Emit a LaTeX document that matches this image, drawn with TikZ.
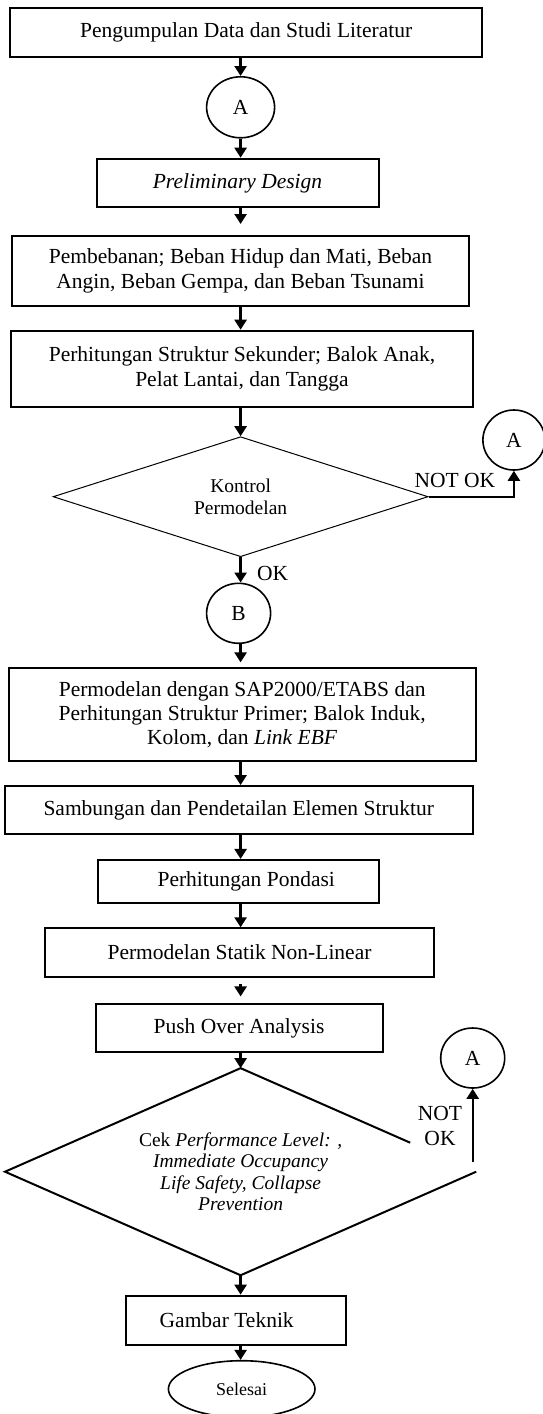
\documentclass[tikz,border=0pt]{standalone}
\usepackage{fontspec}
\setmainfont{Liberation Serif}
\usetikzlibrary{arrows.meta,shapes.geometric,calc}
\newcommand{\myfmain}{\fontsize{21.5}{25}\selectfont}
\newcommand{\myfdia}{\fontsize{19.5}{21.5}\selectfont}
\newcommand{\myfsel}{\fontsize{18}{20}\selectfont}
\begin{document}
\begin{tikzpicture}[x=1pt,y=-1pt,
  box/.style={draw, line width=2pt, rectangle, inner sep=0pt, align=center, font=\myfmain},
  conn/.style={draw, ellipse, line width=1.6pt, inner sep=0pt, font=\myfmain},
  arr/.style={line width=2.4pt, -{Triangle[width=12pt,length=10pt]}},
  lbl/.style={font=\myfmain, inner sep=0pt, align=center}]
\useasboundingbox (0,0) rectangle (542,1414);
\coordinate (ax) at (240.6,0);

\node[box, minimum width=471.6pt, minimum height=49pt] (b1) at (246.2,32.8) {Pengumpulan Data dan Studi Literatur};
\node[conn, minimum width=68pt, minimum height=61pt] (a1) at (240.6,107.3) {A};
\node[box, minimum width=282pt, minimum height=48.6pt] (b2) at (237.5,183) {\textit{Preliminary Design}};
\node[box, minimum width=456.5pt, minimum height=70pt] (b3) at (240.5,271) {Pembebanan; Beban Hidup dan Mati, Beban\\Angin, Beban Gempa, dan Beban Tsunami};
\node[box, minimum width=462pt, minimum height=76.6pt] (b4) at (242,369) {Perhitungan Struktur Sekunder; Balok Anak,\\Pelat Lantai, dan Tangga};
\node[diamond, draw, line width=1pt, aspect=3.1, inner sep=0pt, minimum width=375pt, minimum height=120pt, align=center, font=\myfdia] (d1) at (240.6,496.7) {Kontrol\\Permodelan};
\node[conn, minimum width=62pt, minimum height=60pt] (a2) at (513.9,440) {A};
\node[lbl] (nok1) at (454.9,480) {NOT OK};
\node[conn, minimum width=64pt, minimum height=60pt] (cb) at (238.6,613.3) {B};
\node[lbl] (ok1) at (272.6,573.3) {OK};
\node[box, minimum width=467pt, minimum height=92.7pt, font=\fontsize{21.5}{24}\selectfont] (b5) at (242.2,714.7) {Permodelan dengan SAP2000/ETABS dan\\Perhitungan Struktur Primer; Balok Induk,\\Kolom, dan \textit{Link EBF}};
\node[box, minimum width=468.5pt, minimum height=48.3pt] (b6) at (238.75,810.2) {Sambungan dan Pendetailan Elemen Struktur};
\node[box, minimum width=280.5pt, minimum height=42.7pt] (b7) at (238.25,881.3) {\hspace*{16pt}Perhitungan Pondasi};
\node[box, minimum width=389pt, minimum height=48.4pt] (b8) at (239.5,952.5) {Permodelan Statik Non-Linear};
\node[box, minimum width=287pt, minimum height=47.5pt] (b9) at (239,1028.2) {Push Over Analysis};
\node[diamond, aspect=2.28, inner sep=0pt, minimum width=470.8pt, minimum height=206.7pt, align=center, font=\myfdia] (d2) at (240.6,1171.7) {Cek \textit{Performance Level: ,}\\\textit{Immediate Occupancy}\\\textit{Life Safety, Collapse}\\\textit{Prevention}};
\draw[line width=2pt, line join=miter] ($(d2.north)!0.72!(d2.east)$) -- (d2.north) -- (d2.west) -- (d2.south) -- (d2.east);
\node[conn, minimum width=64pt, minimum height=60pt] (a3) at (472.7,1058) {A};
\coordinate (n2) at (472.7,1162);
\node[lbl] (nok2) at (440,1125.5) {NOT\\OK};
\node[box, minimum width=220pt, minimum height=49.3pt] (gt) at (236,1320.3) {\hspace*{-18.6pt}Gambar Teknik};
\node[conn, minimum width=146.6pt, minimum height=56.6pt, font=\myfsel] (sel) at (241.7,1389) {Selesai};

\draw[arr] (b1.south -| ax) -- (a1.north -| ax);
\draw[arr] (a1.south -| ax) -- (b2.north -| ax);
\draw[arr, shorten >=11pt] (b2.south -| ax) -- (b3.north -| ax);
\draw[arr] (b3.south -| ax) -- (b4.north -| ax);
\draw[arr] (b4.south -| ax) -- (d1.north -| ax);
\draw[arr] (d1.south -| ax) -- (cb.north -| ax);
\draw[arr] (d1.east) -| (a2.south);
\draw[arr, shorten >=5pt] (cb.south -| ax) -- (b5.north -| ax);
\draw[arr] (b5.south -| ax) -- (b6.north -| ax);
\draw[arr] (b6.south -| ax) -- (b7.north -| ax);
\draw[arr] (b7.south -| ax) -- (b8.north -| ax);
\draw[arr, shorten <=6pt, shorten >=7pt] (b8.south -| ax) -- (b9.north -| ax);
\draw[arr] (b9.south -| ax) -- (d2.north -| ax);
\draw[arr] (n2) -- (a3.south);
\draw[arr] (d2.south -| ax) -- (gt.north -| ax);
\draw[arr] (gt.south -| ax) -- (sel.north -| ax);
\end{tikzpicture}
\end{document}
